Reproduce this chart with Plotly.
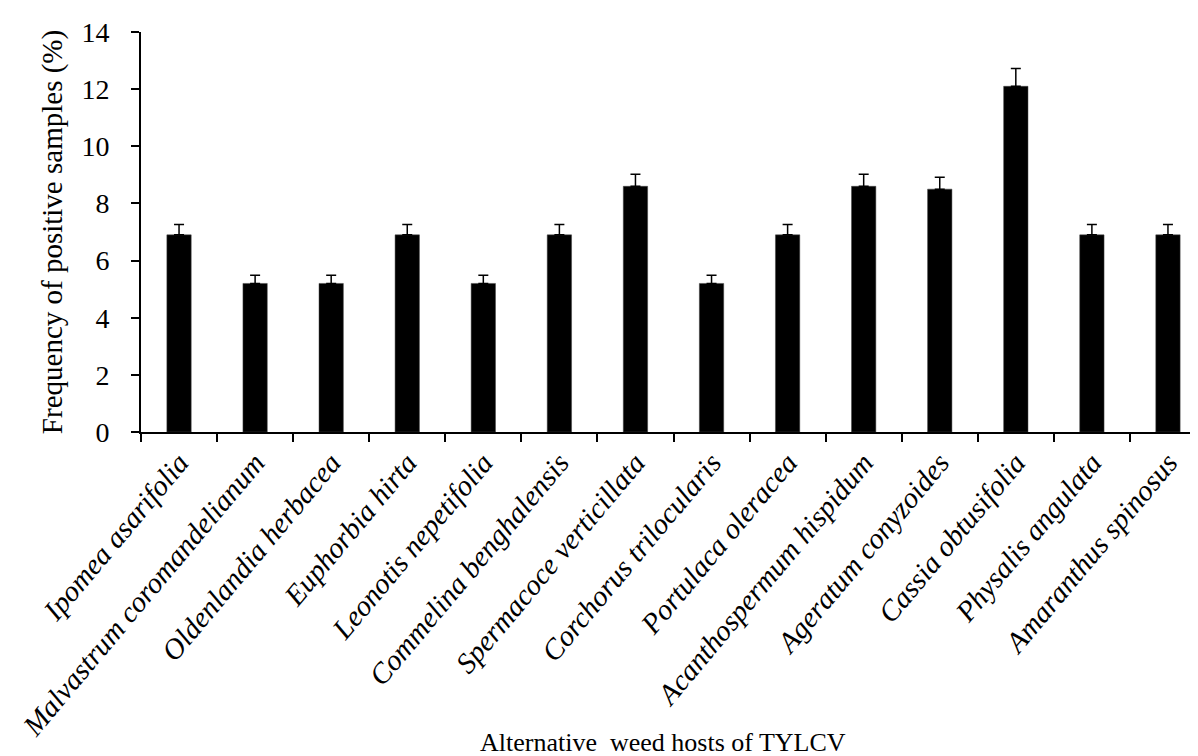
import plotly.graph_objects as go

categories = [
    "Ipomea asarifolia", "Malvastrum coromandelianum", "Oldenlandia herbacea",
    "Euphorbia hirta", "Leonotis nepetifolia", "Commelina benghalensis",
    "Spermacoce verticillata", "Corchorus trilocularis", "Portulaca oleracea",
    "Acanthospermum hispidum", "Ageratum conyzoides", "Cassia obtusifolia",
    "Physalis angulata", "Amaranthus spinosus",
]
values = [6.9, 5.2, 5.2, 6.9, 5.2, 6.9, 8.6, 5.2, 6.9, 8.6, 8.5, 12.1, 6.9, 6.9]
errors = [0.36, 0.29, 0.29, 0.36, 0.29, 0.36, 0.42, 0.29, 0.36, 0.42, 0.42, 0.62, 0.36, 0.36]
y_ticks = [0, 2, 4, 6, 8, 10, 12, 14]

FONT = "Liberation Serif, Times New Roman, serif"

fig = go.Figure(
    go.Bar(
        x=categories,
        y=values,
        marker=dict(color="black", line=dict(color="#444", width=0.5)),
        width=0.32,
        error_y=dict(
            type="data", array=errors, arrayminus=[0] * len(errors), symmetric=False,
            color="black", thickness=1.5, width=5,
        ),
    )
)

fig.update_layout(
    width=1198, height=756,
    margin=dict(l=133, r=0, t=24, b=332),
    paper_bgcolor="white", plot_bgcolor="white",
    showlegend=False,
    font=dict(family=FONT, color="black", size=24),
    xaxis=dict(
        type="category",
        showline=True, linecolor="black", linewidth=2,
        ticks="outside", ticklen=8, tickwidth=1.5, tickcolor="black",
        tickson="boundaries",
        tickangle=-50,
        tickfont=dict(family=FONT, size=29, style="italic"),
        showgrid=False, zeroline=False,
    ),
    yaxis=dict(
        range=[0, 14],
        tickvals=y_ticks,
        ticktext=[str(v) for v in y_ticks],
        showline=True, linecolor="black", linewidth=2,
        ticks="outside", ticklen=8, tickwidth=1.5, tickcolor="black",
        ticklabelstandoff=16,
        tickfont=dict(family=FONT, size=28),
        showgrid=False, zeroline=False,
        title=dict(text="Frequency of positive samples (%)", font=dict(family=FONT, size=29), standoff=10),
    ),
    annotations=[
        dict(
            text="Alternative\u00a0 weed hosts of TYLCV",
            xref="paper", yref="paper", x=0.49, y=-0.818,
            xanchor="center", yanchor="bottom", showarrow=False,
            font=dict(family=FONT, size=26, color="black"),
        )
    ],
)

fig.write_html("out.html")
